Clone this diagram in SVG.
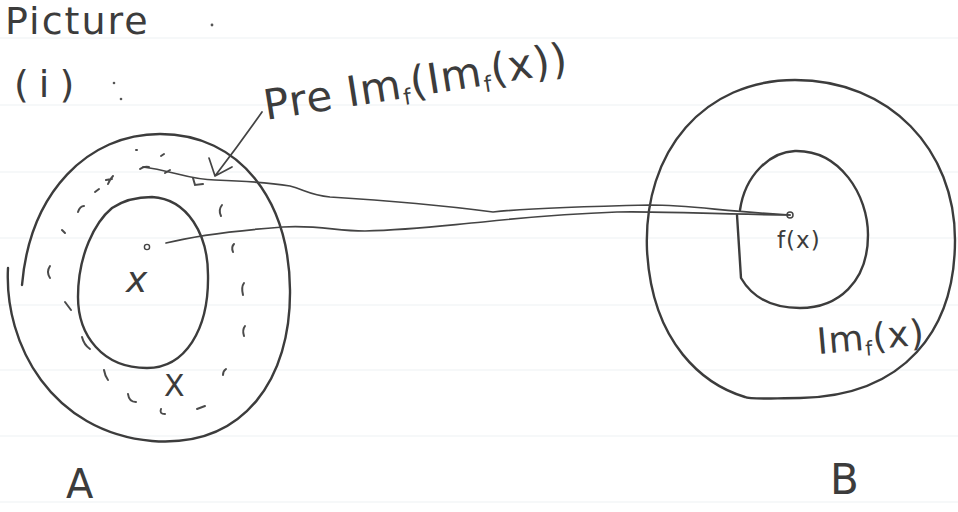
<svg xmlns="http://www.w3.org/2000/svg" width="958" height="512" viewBox="0 0 958 512">
<style>
.ink{fill:none;stroke:#3c3c3c;stroke-width:2.4;stroke-linecap:round;stroke-linejoin:round}
.thin{fill:none;stroke:#444;stroke-width:1.7;stroke-linecap:round;stroke-linejoin:round}
.dash{fill:none;stroke:#4a4a4a;stroke-width:2;stroke-linecap:round}
.rule{stroke:#eef2f4;stroke-width:1.2}
.hand{font-family:"DejaVu Sans","Liberation Sans",sans-serif;fill:#3c3c3c;font-weight:normal}
</style>
<rect width="958" height="512" fill="#ffffff"/>
<g id="paper-rules">
<line class="rule" x1="0" y1="38" x2="958" y2="38"/>
<line class="rule" x1="0" y1="105" x2="958" y2="105"/>
<line class="rule" x1="0" y1="172" x2="958" y2="172"/>
<line class="rule" x1="0" y1="238" x2="958" y2="238"/>
<line class="rule" x1="0" y1="305" x2="958" y2="305"/>
<line class="rule" x1="0" y1="370" x2="958" y2="370"/>
<line class="rule" x1="0" y1="436" x2="958" y2="436"/>
<line class="rule" x1="0" y1="502" x2="958" y2="502"/>
</g>
<g id="heading">
<text class="hand" x="5" y="34" font-size="38" letter-spacing="2">Picture</text>
<circle cx="212" cy="25" r="1.4" fill="#555"/>
<text class="hand" x="14" y="97" font-size="38" letter-spacing="10">(i)</text>
<circle cx="114" cy="83" r="1.3" fill="#555"/>
<circle cx="121" cy="99" r="1.3" fill="#555"/>
</g>
<g id="set-A">
<path class="ink" d="M 8,268 C 4,345 52,432 152,441 C 245,448 291,378 290,290 C 289,200 240,134 160,134 C 88,134 30,192 22,285"/>
<path class="ink" d="M 152,197 C 188,199 208,235 208,275 C 209,330 185,368 147,368 C 102,368 78,335 78,297 C 78,255 95,222 112,208 C 124,200 138,197 152,197 Z"/>
<g id="preimage-dashes">
<path class="dash" d="M 78,212 q 2,-6 6,-6"/>
<path class="dash" d="M 95,192 l 4,-3"/>
<path class="dash" d="M 108,184 q 2,-5 5,-8 M 106,180 l 6,-1"/>
<path class="dash" d="M 136,150 l 1,0"/>
<path class="dash" d="M 140,169 q 4,-3 9,-2"/>
<path class="dash" d="M 161,156 l 3,-2"/>
<path class="dash" d="M 165,173 l 5,-3"/>
<path class="dash" d="M 193,178 l 2,7 l 8,-1"/>
<path class="dash" d="M 222,205 q -4,5 -1,11"/>
<path class="dash" d="M 62,230 l 3,3"/>
<path class="dash" d="M 50,266 q -4,6 0,12"/>
<path class="dash" d="M 234,244 q -3,3 -1,8"/>
<path class="dash" d="M 244,283 q -3,4 -1,12"/>
<path class="dash" d="M 65,302 l 6,8"/>
<path class="dash" d="M 245,326 q -3,4 -1,10"/>
<path class="dash" d="M 82,337 q 2,8 8,12"/>
<path class="dash" d="M 104,370 q 1,6 4,10"/>
<path class="dash" d="M 128,394 q 1,8 8,8"/>
<path class="dash" d="M 161,409 q -2,5 4,5"/>
<path class="dash" d="M 197,409 l 8,-3"/>
<path class="dash" d="M 226,369 q -3,2 -3,6"/>
</g>
<circle cx="147" cy="247" r="2.6" fill="none" stroke="#444" stroke-width="1.4"/>
<text class="hand" x="126" y="292" font-size="36" font-style="italic" font-family="Liberation Serif,serif">x</text>
<text class="hand" x="164" y="396" font-size="30">X</text>
</g>
<g id="set-B">
<path class="ink" d="M 795,80 C 890,80 955,150 955,240 C 955,330 905,396 800,398 C 775,398 750,400 745,397 C 705,385 652,345 647,250 C 643,150 705,80 795,80 Z"/>
<path class="ink" d="M 740,210 C 745,175 770,152 795,151 C 840,150 868,195 868,235 C 868,282 838,308 800,308 C 772,308 752,297 741,278 L 737,215"/>
<circle cx="790" cy="215" r="3" fill="#fff" stroke="#444" stroke-width="1.5"/>
<text class="hand" x="777" y="248" font-size="23" letter-spacing="1">f(x)</text>
<text class="hand" x="818" y="354" font-size="36" letter-spacing="1" transform="rotate(-5 818 354)">Im<tspan font-size="20" dy="6">f</tspan><tspan dy="-6">(x)</tspan></text>
</g>
<g id="connectors">
<path class="thin" d="M 143,167 C 170,170 190,180 215,180 C 245,181 265,182 290,186 C 305,190 310,195 330,197 C 380,200 440,205 493,212 C 520,209 560,207 650,205 C 690,205 720,211 790,215"/>
<path class="thin" d="M 166,243 C 190,237 230,231 283,227 C 320,225 335,231 365,231 C 410,230 440,226 483,222 C 520,218 560,214 617,212 C 660,211 700,214 790,215"/>
<path class="thin" d="M 262,112 C 248,132 235,150 215,176 M 209,158 L 215,176 L 232,167"/>
</g>
<g id="label-preimage">
<text class="hand" x="266" y="120" font-size="42" letter-spacing="1" transform="rotate(-9 266 120)">Pre Im<tspan font-size="22" dy="7">f</tspan><tspan dy="-7">(Im</tspan><tspan font-size="22" dy="7">f</tspan><tspan dy="-7">(x))</tspan></text>
</g>
<g id="set-labels">
<text class="hand" x="66" y="498" font-size="40">A</text>
<text class="hand" x="830" y="494" font-size="42">B</text>
</g>
</svg>
